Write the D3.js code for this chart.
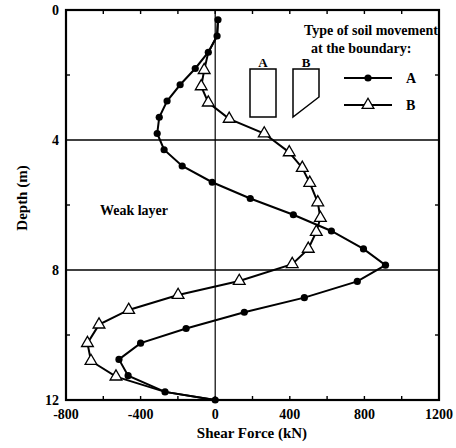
<!DOCTYPE html>
<html>
<head>
<meta charset="utf-8">
<script src="https://cdn.jsdelivr.net/npm/d3@7"></script>
<style>
  body { margin: 0; background: #fff; }
</style>
</head>
<body>
<svg id="chart" width="456" height="448" font-family="'Liberation Serif', 'Times New Roman', 'DejaVu Serif', serif" font-weight="bold"></svg>
<script>
// series A: filled dots
const depthA = [0.3, 0.8, 1.3, 1.8, 2.3, 2.8, 3.3, 3.8, 4.3, 4.8, 5.3, 5.8, 6.3, 6.8, 7.35, 7.85, 8.35, 8.85, 9.3, 9.8, 10.25, 10.75, 11.25, 11.75, 12];
const forceA = [15, 10, -37, -107, -188, -258, -300, -311, -274, -177, -16, 188, 419, 623, 795, 913, 762, 478, 156, -156, -400, -516, -467, -269, 0];

// series B: open triangles (top and bottom run along A without markers)
const depthB = [1.85, 2.35, 2.85, 3.35, 3.8, 4.38, 4.86, 5.32, 5.92, 6.4, 6.83, 7.35, 7.82, 8.34, 8.77, 9.23, 9.68, 10.25, 10.8, 11.28];
const forceB = [-59, -75, -37, 75, 263, 397, 467, 507, 550, 564, 542, 499, 413, 129, -199, -464, -623, -685, -666, -532];
const depthBTop = [0.3, 0.8, 1.3];
const forceBTop = [15, 10, -37];
const depthBEnd = [11.75, 12];
const forceBEnd = [-269, 0];

const xTicks = [-800, -400, 0, 400, 800, 1200];
const xMinor = [-600, -200, 200, 600, 1000];
const yTicks = [0, 4, 8, 12];
const yMinor = [2, 6, 10];
const layerLines = [4, 8];

const svg = d3.select("#chart");
const x = d3.scaleLinear().domain([-800, 1200]).range([66, 439]);
const y = d3.scaleLinear().domain([0, 12]).range([10, 400]);

const zip = (ds, fs) => ds.map((d, i) => ({ d, f: fs[i] }));
const ptsA = zip(depthA, forceA);
const ptsB = zip(depthB, forceB);
const lineB = zip(depthBTop, forceBTop).concat(ptsB, zip(depthBEnd, forceBEnd));

// layer boundaries and zero line
svg.selectAll("line.layer")
  .data(layerLines)
  .join("line")
  .attr("x1", x(-800)).attr("x2", x(1200))
  .attr("y1", d => y(d)).attr("y2", d => y(d))
  .attr("stroke", "#000").attr("stroke-width", 1.7);

svg.append("line")
  .attr("x1", x(0)).attr("x2", x(0))
  .attr("y1", y(0)).attr("y2", y(12))
  .attr("stroke", "#000").attr("stroke-width", 1.2);

// inward ticks
const tk = 4;
const allX = xTicks.concat(xMinor).filter(v => v > -800 && v < 1200);
svg.selectAll("line.xt")
  .data(allX.flatMap(v => [[v, y(0), tk], [v, y(12), -tk]]))
  .join("line")
  .attr("x1", d => x(d[0])).attr("x2", d => x(d[0]))
  .attr("y1", d => d[1]).attr("y2", d => d[1] + d[2])
  .attr("stroke", "#000").attr("stroke-width", 1.4);

svg.selectAll("line.yt")
  .data(yMinor.flatMap(v => [[v, x(-800), tk], [v, x(1200), -tk]]))
  .join("line")
  .attr("y1", d => y(d[0])).attr("y2", d => y(d[0]))
  .attr("x1", d => d[1]).attr("x2", d => d[1] + d[2])
  .attr("stroke", "#000").attr("stroke-width", 1.4);

// frame
svg.append("rect")
  .attr("x", x(-800)).attr("y", y(0))
  .attr("width", x(1200) - x(-800)).attr("height", y(12) - y(0))
  .attr("fill", "none").attr("stroke", "#000").attr("stroke-width", 2.2);

// tick labels
svg.selectAll("text.xl")
  .data(xTicks)
  .join("text")
  .attr("x", d => x(d)).attr("y", 419)
  .attr("text-anchor", "middle")
  .attr("font-size", 14)
  .text(d => d);

svg.selectAll("text.yl")
  .data(yTicks)
  .join("text")
  .attr("x", 59).attr("y", d => y(d) + 5)
  .attr("text-anchor", "end")
  .attr("font-size", 14)
  .text(d => d);

svg.append("text")
  .attr("x", 252).attr("y", 438)
  .attr("text-anchor", "middle")
  .attr("font-size", 15)
  .text("Shear Force (kN)");

svg.append("text")
  .attr("transform", "translate(27,198) rotate(-90)")
  .attr("text-anchor", "middle")
  .attr("font-size", 15)
  .text("Depth (m)");

svg.append("text")
  .attr("x", 100).attr("y", 215)
  .attr("font-size", 14)
  .text("Weak layer");

// curves
const line = d3.line().x(p => x(p.f)).y(p => y(p.d));

svg.append("path").datum(ptsA)
  .attr("d", line).attr("fill", "none")
  .attr("stroke", "#000").attr("stroke-width", 2);

svg.append("path").datum(lineB)
  .attr("d", line).attr("fill", "none")
  .attr("stroke", "#000").attr("stroke-width", 2);

svg.selectAll("circle.a")
  .data(ptsA)
  .join("circle")
  .attr("cx", p => x(p.f)).attr("cy", p => y(p.d))
  .attr("r", 3.6).attr("fill", "#000");

const tri = d3.symbol().type(d3.symbolTriangle).size(60);
svg.selectAll("path.b")
  .data(ptsB)
  .join("path")
  .attr("d", tri)
  .attr("transform", p => `translate(${x(p.f)},${y(p.d)})`)
  .attr("fill", "#fff").attr("stroke", "#000").attr("stroke-width", 1.3);

// legend
svg.append("text").attr("x", 304).attr("y", 35)
  .attr("font-size", 14).text("Type of soil movement");
svg.append("text").attr("x", 311).attr("y", 53)
  .attr("font-size", 14).text("at the boundary:");

svg.append("text").attr("x", 263).attr("y", 67)
  .attr("text-anchor", "middle").attr("font-size", 13).text("A");
svg.append("rect").attr("x", 250).attr("y", 69).attr("width", 26).attr("height", 48)
  .attr("fill", "none").attr("stroke", "#000").attr("stroke-width", 1.5);

svg.append("text").attr("x", 306).attr("y", 67)
  .attr("text-anchor", "middle").attr("font-size", 13).text("B");
svg.append("path").attr("d", "M293,69 L319,69 L319,97 L293,117 Z")
  .attr("fill", "none").attr("stroke", "#000").attr("stroke-width", 1.5);

const legendRows = [
  { label: "A", y: 78, mark: "dot" },
  { label: "B", y: 105, mark: "tri" }
];
legendRows.forEach(r => {
  svg.append("line").attr("x1", 344).attr("x2", 392)
    .attr("y1", r.y).attr("y2", r.y)
    .attr("stroke", "#000").attr("stroke-width", 2);
  if (r.mark === "dot") {
    svg.append("circle").attr("cx", 368).attr("cy", r.y).attr("r", 3.6).attr("fill", "#000");
  } else {
    svg.append("path").attr("d", tri)
      .attr("transform", `translate(368,${r.y})`)
      .attr("fill", "#fff").attr("stroke", "#000").attr("stroke-width", 1.3);
  }
  svg.append("text").attr("x", 406).attr("y", r.y + 5)
    .attr("font-size", 14).text(r.label);
});
</script>
</body>
</html>
